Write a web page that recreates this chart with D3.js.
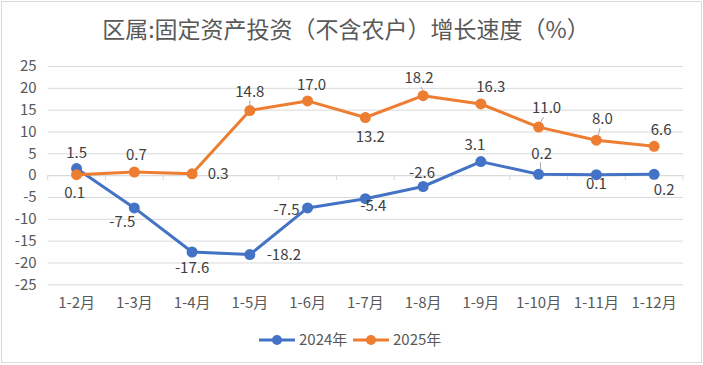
<!DOCTYPE html>
<html><head><meta charset="utf-8">
<script src="https://cdn.jsdelivr.net/npm/d3@7/dist/d3.min.js"></script>
<style>
html,body{margin:0;padding:0;background:#fff;}
svg{display:block;font-family:"Microsoft YaHei","Noto Sans CJK SC",sans-serif;}
</style></head>
<body>
<svg id="chart" width="703" height="365"></svg>
<script>
const title = "区属:固定资产投资（不含农户）增长速度（%）";
const categories = ["1-2月","1-3月","1-4月","1-5月","1-6月","1-7月","1-8月","1-9月","1-10月","1-11月","1-12月"];
const seriesNames = ["2024年","2025年"];
const values2024 = [1.5,-7.5,-17.6,-18.2,-7.5,-5.4,-2.6,3.1,0.2,0.1,0.2];
const values2025 = [0.1,0.7,0.3,14.8,17.0,13.2,18.2,16.3,11.0,8.0,6.6];
const yTicks = [25,20,15,10,5,0,-5,-10,-15,-20,-25];
const colors = ["#4472C4","#ED7D31"];

// label layout (offset of label centre from point), leader flag
const labelLayout = [
  [[0,-16,0],[-12,14,0],[0,16,0],[34,0,0],[-21,2,0],[8,7,0],[-1,-14,0],[-6,-17,0],[3,-21,1],[0,9,0],[10,15,0]],
  [[-2,18,0],[2,-17,0],[26,0,0],[0,-19,1],[4,-16,0],[5,19,0],[-4,-18,1],[10,-17,0],[8,-19,1],[6,-21,1],[7,-17,0]]
];

const svg = d3.select("#chart");
svg.append("rect").attr("x",1.5).attr("y",1.5).attr("width",700).attr("height",361)
  .attr("fill","#fff").attr("stroke","#d9d9d9").attr("stroke-width",1);

const pLeft = 47.7, pRight = 683, pTop = 66, pBottom = 284.3;
const x = d3.scaleBand().domain(categories).range([pLeft,pRight]);
const y = d3.scaleLinear().domain([-25,25]).range([pBottom,pTop]);

svg.append("text").attr("x",346).attr("y",38).attr("text-anchor","middle")
  .attr("font-size",23).attr("fill","#595959").text(title);

// gridlines
const yAxis = d3.axisLeft(y).tickValues(yTicks).tickSize(-(pRight-pLeft)).tickPadding(11).tickFormat(d=>String(d));
const gy = svg.append("g").attr("transform",`translate(${pLeft},0)`).call(yAxis);
gy.select(".domain").remove();
gy.selectAll(".tick line").attr("stroke","#d9d9d9").attr("stroke-width",1);
gy.selectAll(".tick text").attr("fill","#595959").attr("font-size",15).attr("font-family",'"Microsoft YaHei","Noto Sans CJK SC",sans-serif');

// category axis at zero
const xAxis = d3.axisBottom(x).tickSize(0).tickFormat(()=>"");
const gx = svg.append("g").attr("transform",`translate(0,${y(0)})`).call(xAxis);
gx.select(".domain").attr("stroke","#d9d9d9");
gx.selectAll(".tick").remove();
const bounds = categories.map((c)=>x(c)).concat([pRight]);
gx.selectAll("line.bt").data(bounds).enter().append("line").attr("class","bt")
  .attr("x1",d=>d).attr("x2",d=>d).attr("y1",0).attr("y2",5).attr("stroke","#d9d9d9");

// category labels
svg.append("g").selectAll("text").data(categories).enter().append("text")
  .attr("x",d=>x(d)+x.bandwidth()/2).attr("y",308).attr("text-anchor","middle")
  .attr("font-size",15).attr("fill","#595959").text(d=>d);

const allSeries = [values2024, values2025];
const line = d3.line().x((d,i)=>x(categories[i])+x.bandwidth()/2).y(d=>y(d));

allSeries.forEach((vals,si)=>{
  svg.append("path").datum(vals).attr("d",line).attr("fill","none")
    .attr("stroke",colors[si]).attr("stroke-width",3).attr("stroke-linejoin","round");
});
allSeries.forEach((vals,si)=>{
  svg.append("g").selectAll("circle").data(vals).enter().append("circle")
    .attr("cx",(d,i)=>x(categories[i])+x.bandwidth()/2).attr("cy",d=>y(d)).attr("r",5.5)
    .attr("fill",colors[si]);
});
// labels
allSeries.forEach((vals,si)=>{
  const g = svg.append("g");
  vals.forEach((v,i)=>{
    const px = x(categories[i])+x.bandwidth()/2, py = y(v);
    const [dx,dy,lead] = labelLayout[si][i];
    if (lead) {
      g.append("line").attr("x1",px+ (dx>0?2:0)).attr("y1",py-5)
        .attr("x2",px+dx*0.6).attr("y2",py+dy+9).attr("stroke","#a6a6a6").attr("stroke-width",1);
    }
    g.append("text").attr("x",px+dx).attr("y",py+dy).attr("dy","0.35em")
      .attr("text-anchor","middle").attr("font-size",15).attr("fill","#404040")
      .text(v.toFixed(1));
  });
});

// legend
const legendItems = [{n:seriesNames[0],c:colors[0],x:259},{n:seriesNames[1],c:colors[1],x:353}];
const lg = svg.append("g");
legendItems.forEach(it=>{
  lg.append("line").attr("x1",it.x).attr("x2",it.x+36).attr("y1",340).attr("y2",340)
    .attr("stroke",it.c).attr("stroke-width",3);
  lg.append("circle").attr("cx",it.x+18).attr("cy",340).attr("r",5).attr("fill",it.c);
  lg.append("text").attr("x",it.x+40).attr("y",340).attr("dy","0.35em")
    .attr("font-size",15).attr("fill","#595959").text(it.n);
});
</script>
</body></html>
